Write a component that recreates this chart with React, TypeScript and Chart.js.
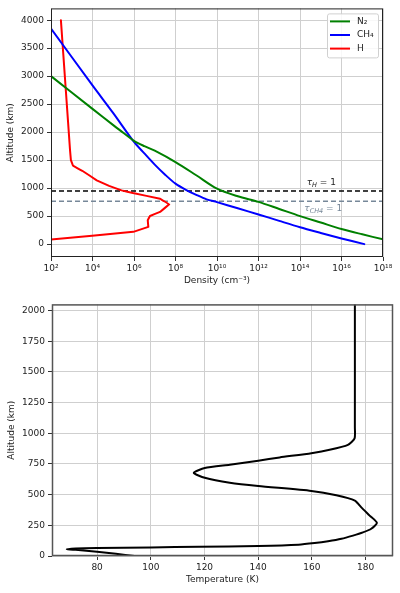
import React, { useEffect, useRef } from 'react';
import { Chart, registerables } from 'chart.js';

Chart.register(...registerables);
Chart.defaults.font.family = "'DejaVu Sans', sans-serif";

// ---------- Top panel: density profiles ----------
const DENSITY_MIN = 1e2;
const DENSITY_MAX = 1e18;
const DENSITY_TICK_EXPONENTS = [2, 4, 6, 8, 10, 12, 14, 16, 18];
const ALT_TICKS_TOP = [0, 500, 1000, 1500, 2000, 2500, 3000, 3500, 4000];

const N2_DENSITY = [1e2, 1e4, 1e5, 3.16e5, 1e6, 3.16e6, 1e7, 1e8, 1e9, 1e10, 1e11, 1e12, 1e13, 1e14, 1e15, 1e16, 1e17, 1e18];
const N2_ALT = [3000, 2415, 2125, 1985, 1845, 1750, 1668, 1465, 1230, 990, 855, 755, 628, 500, 385, 270, 175, 85];

const CH4_DENSITY = [1e2, 1e4, 1e5, 1e6, 3.16e6, 1e7, 3.16e7, 1e8, 3.16e8, 1e9, 3.16e9, 1e10, 1e11, 1e12, 1e13, 1e14, 1e15, 1e16, 1.26e17];
const CH4_ALT = [3850, 2835, 2340, 1825, 1620, 1420, 1240, 1080, 970, 880, 800, 750, 640, 530, 415, 302, 200, 101, 0];

const H_DENSITY = [3.0e2, 5.2e2, 8.3e2, 9.1e2, 1.15e3, 3.2e3, 1.6e4, 6.3e4, 2.5e5, 8.9e5, 1.8e7, 5.0e7, 1.8e7, 5.9e6, 4.6e6, 4.9e6, 9.3e5, 1e2];
const H_ALT = [4000, 2740, 1670, 1500, 1400, 1310, 1140, 1040, 960, 912, 812, 711, 575, 503, 427, 308, 219, 83];

const TAU_H_ALT = 950;
const TAU_CH4_ALT = 765;

// ---------- Bottom panel: temperature profile ----------
const ALT_TICKS_BOTTOM = [0, 250, 500, 750, 1000, 1250, 1500, 1750, 2000];
const TEMP_TICKS = [80, 100, 120, 140, 160, 180];
const TEMP_K = [94, 87, 80, 72, 68.7, 72, 80, 100, 118, 140, 155, 161, 166, 171, 175.3, 179, 182.1, 184.2, 181.5, 178.4, 176, 169.1, 159.8, 140, 129.4, 120.1, 116, 120.1, 129.4, 140, 148, 159.8, 166.6, 173.4, 175.9, 176, 176];
const TEMP_ALT = [0, 18, 35, 50, 56, 62, 66, 70, 75, 82, 92, 105, 120, 140, 166, 192, 222, 270, 329, 396, 452, 495, 530, 570, 597, 637, 677, 717, 744, 777, 803, 838, 865, 905, 958, 1050, 2050];

const SUP: Record<string, string> = { '0': '⁰', '1': '¹', '2': '²', '3': '³', '4': '⁴', '5': '⁵', '6': '⁶', '7': '⁷', '8': '⁸', '9': '⁹', '-': '⁻' };
const powLabel = (e: number) => '10' + String(e).split('').map((c) => SUP[c]).join('');
const plainLabel = (v: any) => String(v);

const pts = (xs: number[], ys: number[]) => xs.map((x, i) => ({ x, y: ys[i] }));

const framePlugin = (color: string, width: number) => ({
  id: 'frame',
  afterDatasetsDraw(chart: any) {
    const { ctx, chartArea: a } = chart;
    ctx.save();
    ctx.strokeStyle = color;
    ctx.lineWidth = width;
    ctx.strokeRect(a.left + 0.5, a.top + 0.5, a.right - a.left - 1, a.bottom - a.top - 1);
    ctx.restore();
  },
});

const tauPlugin = {
  id: 'tauLabels',
  afterDatasetsDraw(chart: any) {
    const { ctx, scales } = chart;
    const draw = (xVal: number, yVal: number, sub: string, color: string) => {
      const x = scales.x.getPixelForValue(xVal);
      const y = scales.y.getPixelForValue(yVal);
      ctx.save();
      ctx.fillStyle = color;
      ctx.textBaseline = 'middle';
      ctx.textAlign = 'left';
      ctx.font = "italic 9px 'DejaVu Sans'";
      ctx.fillText('τ', x, y);
      let w = ctx.measureText('τ').width;
      ctx.font = "italic 6.5px 'DejaVu Sans'";
      ctx.fillText(sub, x + w, y + 2.5);
      w += ctx.measureText(sub).width;
      ctx.font = "9px 'DejaVu Sans'";
      ctx.fillText(' = 1', x + w, y);
      ctx.restore();
    };
    draw(2.1e14, 1097, 'H', '#222222');
    draw(1.6e14, 635, 'CH4', '#778899');
  },
};

const legendPlugin = {
  id: 'insideLegend',
  afterDraw(chart: any) {
    const { ctx, chartArea: a } = chart;
    const items = chart.data.datasets.filter((d: any) => d.inLegend);
    const x0 = a.right - 56;
    const y0 = a.top + 5;
    const w = 51;
    const h = 44;
    ctx.save();
    ctx.fillStyle = 'rgba(255,255,255,0.85)';
    ctx.strokeStyle = '#d0d0d0';
    ctx.lineWidth = 1;
    ctx.beginPath();
    (ctx as any).roundRect(x0 + 0.5, y0 + 0.5, w, h, 2);
    ctx.fill();
    ctx.stroke();
    items.forEach((d: any, i: number) => {
      const y = y0 + 8 + i * 13.6;
      ctx.strokeStyle = d.borderColor;
      ctx.lineWidth = 2;
      ctx.beginPath();
      ctx.moveTo(x0 + 3, y);
      ctx.lineTo(x0 + 23, y);
      ctx.stroke();
      ctx.fillStyle = '#222';
      ctx.font = "9px 'DejaVu Sans'";
      ctx.textBaseline = 'middle';
      ctx.textAlign = 'left';
      ctx.fillText(d.label, x0 + 30, y);
    });
    ctx.restore();
  },
};

const gridOpts = { color: '#cfcfcf', tickColor: '#333', tickLength: 4, lineWidth: 1 };
const tickFont = { size: 9 };
const lineStyle = { showLine: true, pointRadius: 0, borderWidth: 2, borderJoinStyle: 'round', borderCapStyle: 'round' };

function TopChart() {
  const ref = useRef<HTMLCanvasElement>(null);
  useEffect(() => {
    const chart = new Chart(ref.current as HTMLCanvasElement, {
      type: 'scatter',
      data: {
        datasets: [
          { label: 'N₂', inLegend: true, data: pts(N2_DENSITY, N2_ALT), borderColor: '#008000', ...lineStyle, tension: 0.3 } as any,
          { label: 'CH₄', inLegend: true, data: pts(CH4_DENSITY, CH4_ALT), borderColor: '#0000ff', ...lineStyle, tension: 0.3 } as any,
          { label: 'H', inLegend: true, data: pts(H_DENSITY, H_ALT), borderColor: '#ff0000', ...lineStyle, tension: 0.001 } as any,
          { label: 'tauH', data: pts([DENSITY_MIN, DENSITY_MAX], [TAU_H_ALT, TAU_H_ALT]), borderColor: '#000000', borderDash: [5, 3], showLine: true, pointRadius: 0, borderWidth: 1.5 } as any,
          { label: 'tauCH4', data: pts([DENSITY_MIN, DENSITY_MAX], [TAU_CH4_ALT, TAU_CH4_ALT]), borderColor: '#778899', borderDash: [5, 3], showLine: true, pointRadius: 0, borderWidth: 1.5 } as any,
        ],
      },
      options: {
        responsive: false,
        animation: false,
        layout: { padding: { top: 7, right: 17, left: 0, bottom: 0 } },
        plugins: { legend: { display: false }, tooltip: { enabled: false } },
        scales: {
          x: {
            type: 'logarithmic',
            min: DENSITY_MIN,
            max: DENSITY_MAX,
            afterBuildTicks: (s: any) => {
              s.ticks = DENSITY_TICK_EXPONENTS.map((e) => ({ value: Math.pow(10, e) }));
            },
            afterFit: (s: any) => {
              s.height = 39;
            },
            ticks: {
              callback: (v: any) => powLabel(Math.round(Math.log10(Number(v)))),
              autoSkip: false,
              maxRotation: 0,
              color: '#222',
              font: tickFont,
              padding: 2,
            },
            grid: gridOpts,
            border: { display: false },
            title: { display: true, text: 'Density (cm⁻³)', color: '#222', font: { size: 9 }, padding: { top: 0, bottom: 10 } },
          },
          y: {
            type: 'linear',
            min: -230,
            max: 4210,
            afterBuildTicks: (s: any) => {
              s.ticks = ALT_TICKS_TOP.map((v) => ({ value: v }));
            },
            afterFit: (s: any) => {
              s.width = 51;
            },
            ticks: { color: '#222', font: tickFont, padding: 3, callback: plainLabel },
            grid: gridOpts,
            border: { display: false },
            title: { display: true, text: 'Altitude (km)', color: '#222', font: { size: 9 }, padding: { top: 5, bottom: 0 } },
          },
        },
      } as any,
      plugins: [framePlugin('#222', 1), tauPlugin, legendPlugin],
    });
    return () => chart.destroy();
  }, []);
  return <canvas ref={ref} width={400} height={296} style={{ display: 'block' }} />;
}

function BottomChart() {
  const ref = useRef<HTMLCanvasElement>(null);
  useEffect(() => {
    const chart = new Chart(ref.current as HTMLCanvasElement, {
      type: 'scatter',
      data: {
        datasets: [
          { label: 'Temperature', data: pts(TEMP_K, TEMP_ALT), borderColor: '#000000', ...lineStyle, tension: 0.2 } as any,
        ],
      },
      options: {
        responsive: false,
        animation: false,
        layout: { padding: { top: 5, right: 7, left: 0, bottom: 0 } },
        plugins: { legend: { display: false }, tooltip: { enabled: false } },
        scales: {
          x: {
            type: 'linear',
            min: 63.2,
            max: 190.2,
            afterBuildTicks: (s: any) => {
              s.ticks = TEMP_TICKS.map((v) => ({ value: v }));
            },
            afterFit: (s: any) => {
              s.height = 37;
            },
            ticks: { color: '#222', font: tickFont, padding: 2, autoSkip: false, maxRotation: 0, callback: plainLabel },
            grid: gridOpts,
            border: { display: false },
            title: { display: true, text: 'Temperature (K)', color: '#222', font: { size: 9 }, padding: { top: 0, bottom: 8 } },
          },
          y: {
            type: 'linear',
            min: 0,
            max: 2050,
            afterBuildTicks: (s: any) => {
              s.ticks = ALT_TICKS_BOTTOM.map((v) => ({ value: v }));
            },
            afterFit: (s: any) => {
              s.width = 52;
            },
            ticks: { color: '#222', font: tickFont, padding: 3, callback: plainLabel },
            grid: gridOpts,
            border: { display: false },
            title: { display: true, text: 'Altitude (km)', color: '#222', font: { size: 9 }, padding: { top: 6, bottom: 0 } },
          },
        },
      } as any,
      plugins: [framePlugin('#555', 1.5)],
    });
    return () => chart.destroy();
  }, []);
  return <canvas ref={ref} width={400} height={297} style={{ display: 'block' }} />;
}

export default function App() {
  return (
    <div style={{ position: 'absolute', left: 0, top: 0, width: 400, height: 593, background: '#fff' }}>
      <TopChart />
      <BottomChart />
    </div>
  );
}
